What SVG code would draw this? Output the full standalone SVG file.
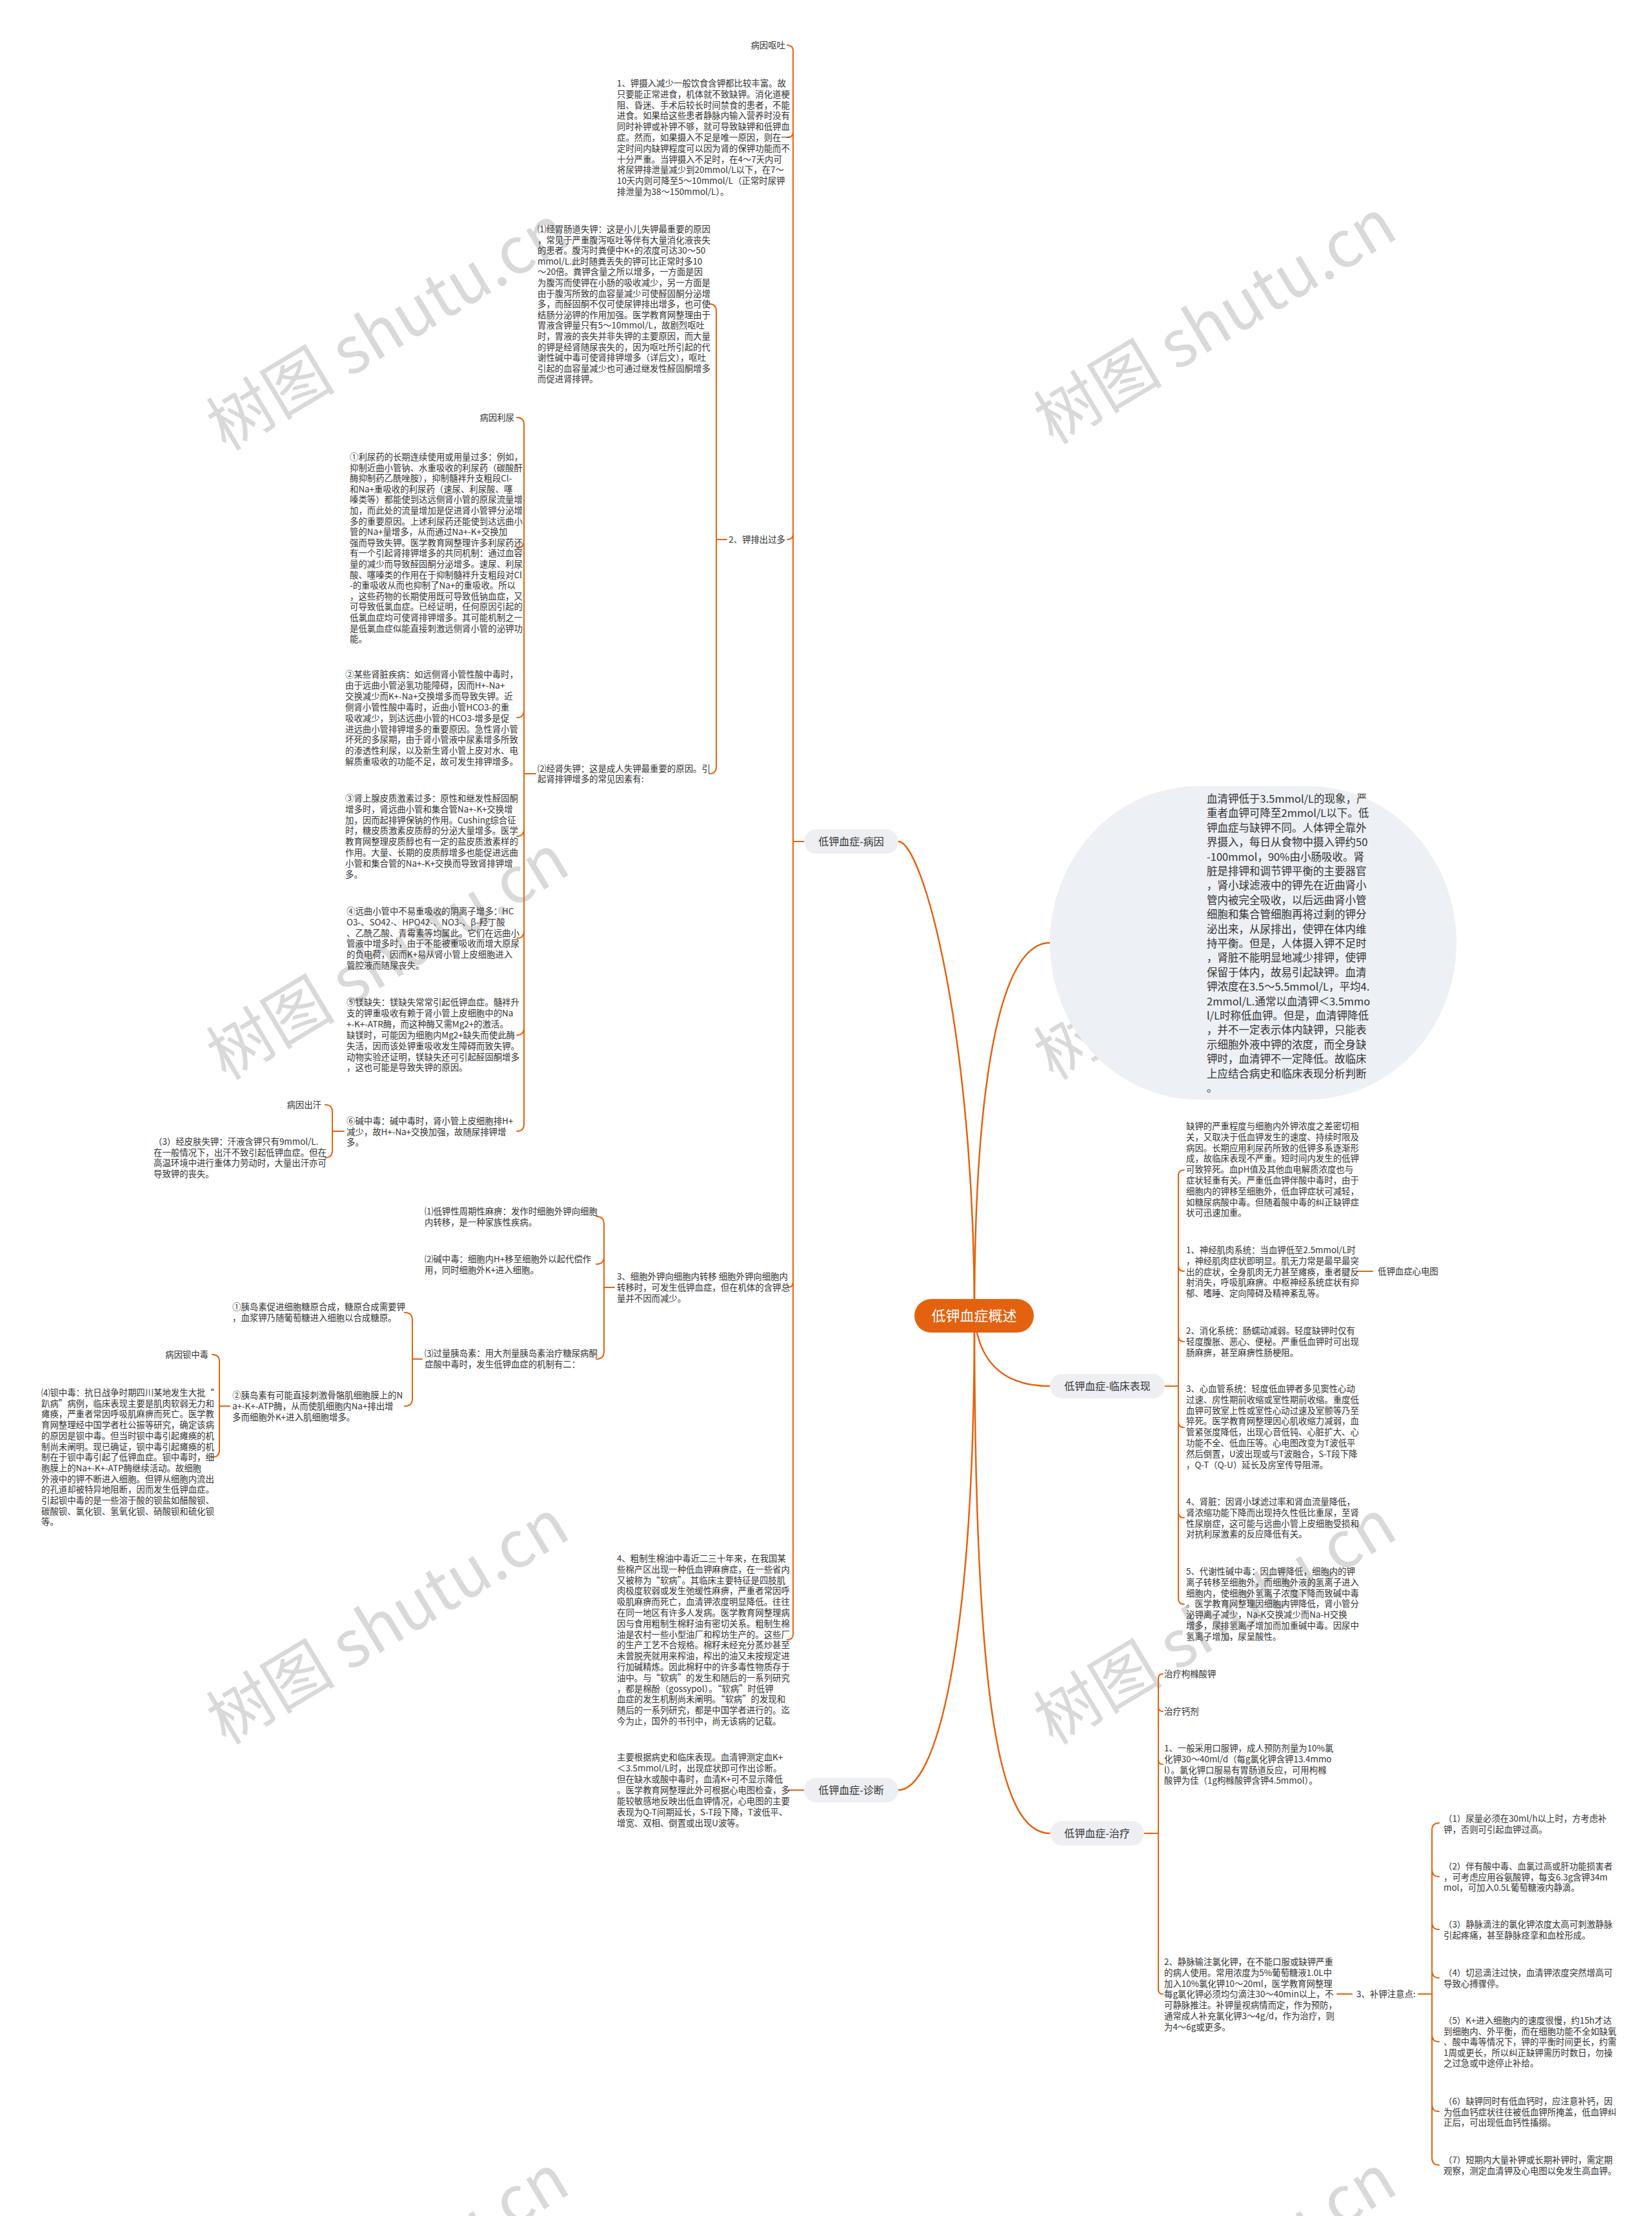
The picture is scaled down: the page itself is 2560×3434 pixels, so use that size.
<svg xmlns="http://www.w3.org/2000/svg" width="2560" height="3434" viewBox="0 0 2560 3434">
<style>
.t{font-family:'Noto Sans CJK SC','Noto Sans',sans-serif;font-size:13.4px;fill:#333}
.n{font-family:'Noto Sans CJK SC','Noto Sans',sans-serif;font-size:16px;fill:#333;text-anchor:middle}
.big{font-family:'Noto Sans CJK SC','Noto Sans',sans-serif;font-size:16.5px;fill:#333}
.wm{font-family:'Noto Sans CJK SC','Noto Sans',sans-serif;font-size:100px;fill:#d9d9d9}
.c{fill:none;stroke:#E4620F;stroke-width:2.5;stroke-linecap:round}
.b{fill:none;stroke:#E4620F;stroke-width:2;stroke-linecap:round;stroke-linejoin:round}
.pill{fill:#EDEFF2}
</style>
<rect width="2560" height="3434" fill="#ffffff"/>
<g id="watermarks">
<text class="wm" transform="translate(350,700) rotate(-31)">树图 shutu.cn</text>
<text class="wm" transform="translate(1632,690) rotate(-31)">树图 shutu.cn</text>
<text class="wm" transform="translate(350,1675) rotate(-31)">树图 shutu.cn</text>
<text class="wm" transform="translate(1632,1675) rotate(-31)">树图 shutu.cn</text>
<text class="wm" transform="translate(350,2705) rotate(-31)">树图 shutu.cn</text>
<text class="wm" transform="translate(1632,2705) rotate(-31)">树图 shutu.cn</text>
<text class="wm" transform="translate(350,3720) rotate(-31)">树图 shutu.cn</text>
<text class="wm" transform="translate(1632,3720) rotate(-31)">树图 shutu.cn</text>
</g>
<g id="connectors">
<path class="c" d="M1510,2039 C1510,1600 1430,1304 1392,1304"/>
<path class="c" d="M1510,2039 C1510,1700 1545,1461 1627,1461"/>
<path class="c" d="M1510,2039 C1515,2100 1545,2148 1627,2148"/>
<path class="c" d="M1510,2039 C1510,2560 1450,2774 1392,2774"/>
<path class="c" d="M1510,2039 C1510,2650 1550,2841 1627,2841"/>
<path class="b" d="M1246,1304 H1229 M1220,70 Q1229,70 1229,79 V2532 Q1229,2541 1220,2541 M1229,204 Q1229,213 1220,213 M1229,827 Q1229,836 1220,836 M1229,1986 Q1229,1995 1220,1995"/>
<path class="b" d="M1126,836 H1110 M1099,471 Q1110,471 1110,482 V1188 Q1110,1199 1099,1199"/>
<path class="b" d="M830,1199 H812 M801,647 Q812,647 812,658 V1742 Q812,1753 801,1753 M812,838 Q812,849 801,849 M812,1101 Q812,1112 801,1112 M812,1285 Q812,1296 801,1296 M812,1443 Q812,1454 801,1454 M812,1593 Q812,1604 801,1604"/>
<path class="b" d="M533,1753 H515 M504,1712 Q515,1712 515,1723 V1783 Q515,1794 504,1794"/>
<path class="b" d="M952,1995 H936 M924,1885 Q936,1885 936,1897 V2094 Q936,2106 924,2106 M936,1947 Q936,1959 924,1959"/>
<path class="b" d="M654,2106 H639 M627,2034 Q639,2034 639,2046 V2167 Q639,2179 627,2179"/>
<path class="b" d="M356,2179 H340 M329,2099 Q340,2099 340,2110 V2247 Q340,2258 329,2258"/>
<path class="b" d="M1246,2774 H1222"/>
<path class="b" d="M1805,2148 H1826 M1835,1813 Q1826,1813 1826,1822 V2477 Q1826,2486 1835,2486 M1826,1961 Q1826,1970 1835,1970 M1826,2070 Q1826,2079 1835,2079 M1826,2203 Q1826,2212 1835,2212 M1826,2343 Q1826,2352 1835,2352"/>
<path class="b" d="M2103,1970 H2127"/>
<path class="b" d="M1773,2841 H1795 M1802,2594 Q1795,2594 1795,2601 V3083 Q1795,3090 1802,3090 M1795,2645 Q1795,2652 1802,2652 M1795,2727 Q1795,2734 1802,2734"/>
<path class="b" d="M2072,3090 H2095"/>
<path class="b" d="M2198,3090 H2219 M2230,2825 Q2219,2825 2219,2836 V3344 Q2219,3355 2230,3355 M2219,2897 Q2219,2908 2230,2908 M2219,2979 Q2219,2990 2230,2990 M2219,3054 Q2219,3065 2230,3065 M2219,3153 Q2219,3164 2230,3164 M2219,3261 Q2219,3272 2230,3272"/>
</g>
<g id="root">
<rect x="1417" y="2013" width="185" height="52" rx="26" fill="#E4620F"/>
<text x="1509.5" y="2047" font-family="'Noto Sans CJK SC','Noto Sans',sans-serif" font-size="22" fill="#ffffff" text-anchor="middle">低钾血症概述</text>
</g>
<g id="n-cause"><rect class="pill" x="1246" y="1285" width="146" height="38" rx="19"/><text class="n" x="1319" y="1310">低钾血症-病因</text></g>
<g id="n-diag"><rect class="pill" x="1246" y="2755" width="146" height="38" rx="19"/><text class="n" x="1319" y="2780">低钾血症-诊断</text></g>
<g id="n-clin"><rect class="pill" x="1627" y="2129" width="178" height="38" rx="19"/><text class="n" x="1716" y="2154">低钾血症-临床表现</text></g>
<g id="n-treat"><rect class="pill" x="1627" y="2822" width="146" height="38" rx="19"/><text class="n" x="1700" y="2847">低钾血症-治疗</text></g>
<g id="n-def">
<rect x="1627" y="1218" width="630" height="486" rx="230" ry="243" fill="#EDF0F4"/>
<text class="big"><tspan x="1870" y="1244">血清钾低于3.5mmol/L的现象，严</tspan><tspan x="1870" dy="22.4">重者血钾可降至2mmol/L以下。低</tspan><tspan x="1870" dy="22.4">钾血症与缺钾不同。人体钾全靠外</tspan><tspan x="1870" dy="22.4">界摄入，每日从食物中摄入钾约50</tspan><tspan x="1870" dy="22.4">-100mmol，90%由小肠吸收。肾</tspan><tspan x="1870" dy="22.4">脏是排钾和调节钾平衡的主要器官</tspan><tspan x="1870" dy="22.4">，肾小球滤液中的钾先在近曲肾小</tspan><tspan x="1870" dy="22.4">管内被完全吸收，以后远曲肾小管</tspan><tspan x="1870" dy="22.4">细胞和集合管细胞再将过剩的钾分</tspan><tspan x="1870" dy="22.4">泌出来，从尿排出，使钾在体内维</tspan><tspan x="1870" dy="22.4">持平衡。但是，人体摄入钾不足时</tspan><tspan x="1870" dy="22.4">，肾脏不能明显地减少排钾，使钾</tspan><tspan x="1870" dy="22.4">保留于体内，故易引起缺钾。血清</tspan><tspan x="1870" dy="22.4">钾浓度在3.5～5.5mmol/L，平均4.</tspan><tspan x="1870" dy="22.4">2mmol/L.通常以血清钾＜3.5mmo</tspan><tspan x="1870" dy="22.4">l/L时称低血钾。但是，血清钾降低</tspan><tspan x="1870" dy="22.4">，并不一定表示体内缺钾，只能表</tspan><tspan x="1870" dy="22.4">示细胞外液中钾的浓度，而全身缺</tspan><tspan x="1870" dy="22.4">钾时，血清钾不一定降低。故临床</tspan><tspan x="1870" dy="22.4">上应结合病史和临床表现分析判断</tspan><tspan x="1870" dy="22.4">。</tspan></text>
</g>
<g id="c-vomit"><text class="t" x="1217" y="75" text-anchor="end">病因呕吐</text></g>
<g id="c-1"><text class="t"><tspan x="956" y="134">1、钾摄入减少一般饮食含钾都比较丰富。故</tspan><tspan x="956" dy="16.8">只要能正常进食，机体就不致缺钾。消化道梗</tspan><tspan x="956" dy="16.8">阻、昏迷、手术后较长时间禁食的患者，不能</tspan><tspan x="956" dy="16.8">进食。如果给这些患者静脉内输入营养时没有</tspan><tspan x="956" dy="16.8">同时补钾或补钾不够，就可导致缺钾和低钾血</tspan><tspan x="956" dy="16.8">症。然而，如果摄入不足是唯一原因，则在一</tspan><tspan x="956" dy="16.8">定时间内缺钾程度可以因为肾的保钾功能而不</tspan><tspan x="956" dy="16.8">十分严重。当钾摄入不足时，在4～7天内可</tspan><tspan x="956" dy="16.8">将尿钾排泄量减少到20mmol/L以下，在7～</tspan><tspan x="956" dy="16.8">10天内则可降至5～10mmol/L（正常时尿钾</tspan><tspan x="956" dy="16.8">排泄量为38～150mmol/L）。</tspan></text></g>
<g id="c-2"><text class="t" x="1217" y="841" text-anchor="end">2、钾排出过多</text></g>
<g id="c-2-1"><text class="t"><tspan x="833" y="360">⑴经胃肠道失钾：这是小儿失钾最重要的原因</tspan><tspan x="833" dy="16.6">，常见于严重腹泻呕吐等伴有大量消化液丧失</tspan><tspan x="833" dy="16.6">的患者。腹泻时粪便中K+的浓度可达30～50</tspan><tspan x="833" dy="16.6">mmol/L.此时随粪丢失的钾可比正常时多10</tspan><tspan x="833" dy="16.6">～20倍。粪钾含量之所以增多，一方面是因</tspan><tspan x="833" dy="16.6">为腹泻而使钾在小肠的吸收减少，另一方面是</tspan><tspan x="833" dy="16.6">由于腹泻所致的血容量减少可使醛固酮分泌增</tspan><tspan x="833" dy="16.6">多，而醛固酮不仅可使尿钾排出增多，也可使</tspan><tspan x="833" dy="16.6">结肠分泌钾的作用加强。医学教育网整理由于</tspan><tspan x="833" dy="16.6">胃液含钾量只有5～10mmol/L，故剧烈呕吐</tspan><tspan x="833" dy="16.6">时，胃液的丧失并非失钾的主要原因，而大量</tspan><tspan x="833" dy="16.6">的钾是经肾随尿丧失的，因为呕吐所引起的代</tspan><tspan x="833" dy="16.6">谢性碱中毒可使肾排钾增多（详后文），呕吐</tspan><tspan x="833" dy="16.6">引起的血容量减少也可通过继发性醛固酮增多</tspan><tspan x="833" dy="16.6">而促进肾排钾。</tspan></text></g>
<g id="c-2-2"><text class="t"><tspan x="833" y="1196">⑵经肾失钾：这是成人失钾最重要的原因。引</tspan><tspan x="833" dy="16.2">起肾排钾增多的常见因素有:</tspan></text></g>
<g id="c-diuresis"><text class="t" x="797" y="652" text-anchor="end">病因利尿</text></g>
<g id="c-2-2-1"><text class="t"><tspan x="542" y="713">①利尿药的长期连续使用或用量过多：例如，</tspan><tspan x="542" dy="16.6">抑制近曲小管钠、水重吸收的利尿药（碳酸酐</tspan><tspan x="542" dy="16.6">酶抑制药乙酰唑胺），抑制髓袢升支粗段Cl-</tspan><tspan x="542" dy="16.6">和Na+重吸收的利尿药（速尿、利尿酸、噻</tspan><tspan x="542" dy="16.6">嗪类等）都能使到达远侧肾小管的原尿流量增</tspan><tspan x="542" dy="16.6">加，而此处的流量增加是促进肾小管钾分泌增</tspan><tspan x="542" dy="16.6">多的重要原因。上述利尿药还能使到达远曲小</tspan><tspan x="542" dy="16.6">管的Na+量增多，从而通过Na+-K+交换加</tspan><tspan x="542" dy="16.6">强而导致失钾。医学教育网整理许多利尿药还</tspan><tspan x="542" dy="16.6">有一个引起肾排钾增多的共同机制：通过血容</tspan><tspan x="542" dy="16.6">量的减少而导致醛固酮分泌增多。速尿、利尿</tspan><tspan x="542" dy="16.6">酸、噻嗪类的作用在于抑制髓袢升支粗段对Cl</tspan><tspan x="542" dy="16.6">-的重吸收从而也抑制了Na+的重吸收。所以</tspan><tspan x="542" dy="16.6">，这些药物的长期使用既可导致低钠血症，又</tspan><tspan x="542" dy="16.6">可导致低氯血症。已经证明，任何原因引起的</tspan><tspan x="542" dy="16.6">低氯血症均可使肾排钾增多。其可能机制之一</tspan><tspan x="542" dy="16.6">是低氯血症似能直接刺激远侧肾小管的泌钾功</tspan><tspan x="542" dy="16.6">能。</tspan></text></g>
<g id="c-2-2-2"><text class="t"><tspan x="535" y="1050">②某些肾脏疾病：如远侧肾小管性酸中毒时，</tspan><tspan x="535" dy="16.9">由于远曲小管泌氢功能障碍，因而H+-Na+</tspan><tspan x="535" dy="16.9">交换减少而K+-Na+交换增多而导致失钾。近</tspan><tspan x="535" dy="16.9">侧肾小管性酸中毒时，近曲小管HCO3-的重</tspan><tspan x="535" dy="16.9">吸收减少，到达远曲小管的HCO3-增多是促</tspan><tspan x="535" dy="16.9">进远曲小管排钾增多的重要原因。急性肾小管</tspan><tspan x="535" dy="16.9">坏死的多尿期，由于肾小管液中尿素增多所致</tspan><tspan x="535" dy="16.9">的渗透性利尿，以及新生肾小管上皮对水、电</tspan><tspan x="535" dy="16.9">解质重吸收的功能不足，故可发生排钾增多。</tspan></text></g>
<g id="c-2-2-3"><text class="t"><tspan x="535" y="1242">③肾上腺皮质激素过多：原性和继发性醛固酮</tspan><tspan x="535" dy="16.8">增多时，肾远曲小管和集合管Na+-K+交换增</tspan><tspan x="535" dy="16.8">加，因而起排钾保钠的作用。Cushing综合征</tspan><tspan x="535" dy="16.8">时，糖皮质激素皮质醇的分泌大量增多。医学</tspan><tspan x="535" dy="16.8">教育网整理皮质醇也有一定的盐皮质激素样的</tspan><tspan x="535" dy="16.8">作用。大量、长期的皮质醇增多也能促进远曲</tspan><tspan x="535" dy="16.8">小管和集合管的Na+-K+交换而导致肾排钾增</tspan><tspan x="535" dy="16.8">多。</tspan></text></g>
<g id="c-2-2-4"><text class="t"><tspan x="537" y="1417">④远曲小管中不易重吸收的阴离子增多：HC</tspan><tspan x="537" dy="16.8">O3-、SO42-、HPO42-、NO3-、β-羟丁酸</tspan><tspan x="537" dy="16.8">、乙酰乙酸、青霉素等均属此。它们在远曲小</tspan><tspan x="537" dy="16.8">管液中增多时，由于不能被重吸收而增大原尿</tspan><tspan x="537" dy="16.8">的负电荷，因而K+易从肾小管上皮细胞进入</tspan><tspan x="537" dy="16.8">管腔液而随尿丧失。</tspan></text></g>
<g id="c-2-2-5"><text class="t"><tspan x="537" y="1558">⑤镁缺失：镁缺失常常引起低钾血症。髓袢升</tspan><tspan x="537" dy="16.9">支的钾重吸收有赖于肾小管上皮细胞中的Na</tspan><tspan x="537" dy="16.9">+-K+-ATR酶，而这种酶又需Mg2+的激活。</tspan><tspan x="537" dy="16.9">缺镁时，可能因为细胞内Mg2+缺失而使此酶</tspan><tspan x="537" dy="16.9">失活，因而该处钾重吸收发生障碍而致失钾。</tspan><tspan x="537" dy="16.9">动物实验还证明，镁缺失还可引起醛固酮增多</tspan><tspan x="537" dy="16.9">，这也可能是导致失钾的原因。</tspan></text></g>
<g id="c-2-2-6"><text class="t"><tspan x="537" y="1742">⑥碱中毒：碱中毒时，肾小管上皮细胞排H+</tspan><tspan x="537" dy="16.6">减少，故H+-Na+交换加强，故随尿排钾增</tspan><tspan x="537" dy="16.6">多。</tspan></text></g>
<g id="c-sweat"><text class="t" x="498" y="1717" text-anchor="end">病因出汗</text></g>
<g id="c-skin"><text class="t"><tspan x="238" y="1774">（3）经皮肤失钾：汗液含钾只有9mmol/L.</tspan><tspan x="238" dy="16.6">在一般情况下，出汗不致引起低钾血症。但在</tspan><tspan x="238" dy="16.6">高温环境中进行重体力劳动时，大量出汗亦可</tspan><tspan x="238" dy="16.6">导致钾的丧失。</tspan></text></g>
<g id="c-3"><text class="t"><tspan x="956" y="1983">3、细胞外钾向细胞内转移 细胞外钾向细胞内</tspan><tspan x="956" dy="17">转移时，可发生低钾血症，但在机体的含钾总</tspan><tspan x="956" dy="17">量并不因而减少。</tspan></text></g>
<g id="c-3-1"><text class="t"><tspan x="658" y="1882">⑴低钾性周期性麻痹：发作时细胞外钾向细胞</tspan><tspan x="658" dy="16.6">内转移，是一种家族性疾病。</tspan></text></g>
<g id="c-3-2"><text class="t"><tspan x="658" y="1956">⑵碱中毒：细胞内H+移至细胞外以起代偿作</tspan><tspan x="658" dy="16.6">用，同时细胞外K+进入细胞。</tspan></text></g>
<g id="c-3-3"><text class="t"><tspan x="658" y="2102">⑶过量胰岛素：用大剂量胰岛素治疗糖尿病酮</tspan><tspan x="658" dy="16.6">症酸中毒时，发生低钾血症的机制有二：</tspan></text></g>
<g id="c-3-3-1"><text class="t"><tspan x="360" y="2030">①胰岛素促进细胞糖原合成，糖原合成需要钾</tspan><tspan x="360" dy="16.6">，血浆钾乃随葡萄糖进入细胞以合成糖原。</tspan></text></g>
<g id="c-3-3-2"><text class="t"><tspan x="360" y="2167">②胰岛素有可能直接刺激骨骼肌细胞膜上的N</tspan><tspan x="360" dy="16.8">a+-K+-ATP酶，从而使肌细胞内Na+排出增</tspan><tspan x="360" dy="16.8">多而细胞外K+进入肌细胞增多。</tspan></text></g>
<g id="c-barium-label"><text class="t" x="323" y="2104" text-anchor="end">病因钡中毒</text></g>
<g id="c-barium"><text class="t"><tspan x="64" y="2163">⑷钡中毒：抗日战争时期四川某地发生大批“</tspan><tspan x="64" dy="16.7">趴病”病例，临床表现主要是肌肉软弱无力和</tspan><tspan x="64" dy="16.7">瘫痪，严重者常因呼吸肌麻痹而死亡。医学教</tspan><tspan x="64" dy="16.7">育网整理经中国学者杜公振等研究，确定该病</tspan><tspan x="64" dy="16.7">的原因是钡中毒。但当时钡中毒引起瘫痪的机</tspan><tspan x="64" dy="16.7">制尚未阐明。现已确证，钡中毒引起瘫痪的机</tspan><tspan x="64" dy="16.7">制在于钡中毒引起了低钾血症。钡中毒时，细</tspan><tspan x="64" dy="16.7">胞膜上的Na+-K+-ATP酶继续活动。故细胞</tspan><tspan x="64" dy="16.7">外液中的钾不断进入细胞。但钾从细胞内流出</tspan><tspan x="64" dy="16.7">的孔道却被特异地阻断，因而发生低钾血症。</tspan><tspan x="64" dy="16.7">引起钡中毒的是一些溶于酸的钡盐如醋酸钡、</tspan><tspan x="64" dy="16.7">碳酸钡、氯化钡、氢氧化钡、硝酸钡和硫化钡</tspan><tspan x="64" dy="16.7">等。</tspan></text></g>
<g id="c-4"><text class="t"><tspan x="956" y="2420">4、粗制生棉油中毒近二三十年来，在我国某</tspan><tspan x="956" dy="16.8">些棉产区出现一种低血钾麻痹症，在一些省内</tspan><tspan x="956" dy="16.8">又被称为“软病”。其临床主要特征是四肢肌</tspan><tspan x="956" dy="16.8">肉极度软弱或发生弛缓性麻痹，严重者常因呼</tspan><tspan x="956" dy="16.8">吸肌麻痹而死亡，血清钾浓度明显降低。往往</tspan><tspan x="956" dy="16.8">在同一地区有许多人发病。医学教育网整理病</tspan><tspan x="956" dy="16.8">因与食用粗制生棉籽油有密切关系。粗制生棉</tspan><tspan x="956" dy="16.8">油是农村一些小型油厂和榨坊生产的。这些厂</tspan><tspan x="956" dy="16.8">的生产工艺不合规格。棉籽未经充分蒸炒甚至</tspan><tspan x="956" dy="16.8">未曾脱壳就用来榨油，榨出的油又未按规定进</tspan><tspan x="956" dy="16.8">行加碱精炼。因此棉籽中的许多毒性物质存于</tspan><tspan x="956" dy="16.8">油中。与“软病”的发生和随后的一系列研究</tspan><tspan x="956" dy="16.8">，都是棉酚（gossypol）。“软病”时低钾</tspan><tspan x="956" dy="16.8">血症的发生机制尚未阐明。“软病”的发现和</tspan><tspan x="956" dy="16.8">随后的一系列研究，都是中国学者进行的。迄</tspan><tspan x="956" dy="16.8">今为止，国外的书刊中，尚无该病的记载。</tspan></text></g>
<g id="d-1"><text class="t"><tspan x="956" y="2728">主要根据病史和临床表现。血清钾测定血K+</tspan><tspan x="956" dy="17">＜3.5mmol/L时，出现症状即可作出诊断。</tspan><tspan x="956" dy="17">但在缺水或酸中毒时，血清K+可不显示降低</tspan><tspan x="956" dy="17">。医学教育网整理此外可根据心电图检查，多</tspan><tspan x="956" dy="17">能较敏感地反映出低血钾情况，心电图的主要</tspan><tspan x="956" dy="17">表现为Q-T间期延长，S-T段下降，T波低平、</tspan><tspan x="956" dy="17">增宽、双相、倒置或出现U波等。</tspan></text></g>
<g id="k-0"><text class="t"><tspan x="1838" y="1750">缺钾的严重程度与细胞内外钾浓度之差密切相</tspan><tspan x="1838" dy="16.8">关，又取决于低血钾发生的速度、持续时限及</tspan><tspan x="1838" dy="16.8">病因。长期应用利尿药所致的低钾多系逐渐形</tspan><tspan x="1838" dy="16.8">成，故临床表现不严重。短时间内发生的低钾</tspan><tspan x="1838" dy="16.8">可致猝死。血pH值及其他血电解质浓度也与</tspan><tspan x="1838" dy="16.8">症状轻重有关。严重低血钾伴酸中毒时，由于</tspan><tspan x="1838" dy="16.8">细胞内的钾移至细胞外，低血钾症状可减轻，</tspan><tspan x="1838" dy="16.8">如糖尿病酸中毒。但随着酸中毒的纠正缺钾症</tspan><tspan x="1838" dy="16.8">状可迅速加重。</tspan></text></g>
<g id="k-1"><text class="t"><tspan x="1838" y="1942">1、神经肌肉系统：当血钾低至2.5mmol/L时</tspan><tspan x="1838" dy="16.8">，神经肌肉症状即明显。肌无力常是最早最突</tspan><tspan x="1838" dy="16.8">出的症状，全身肌肉无力甚至瘫痪，重者腱反</tspan><tspan x="1838" dy="16.8">射消失，呼吸肌麻痹。中枢神经系统症状有抑</tspan><tspan x="1838" dy="16.8">郁、嗜睡、定向障碍及精神紊乱等。</tspan></text></g>
<g id="k-ecg"><text class="t" x="2135" y="1975">低钾血症心电图</text></g>
<g id="k-2"><text class="t"><tspan x="1838" y="2067">2、消化系统：肠蠕动减弱。轻度缺钾时仅有</tspan><tspan x="1838" dy="16.8">轻度腹胀、恶心、便秘。严重低血钾时可出现</tspan><tspan x="1838" dy="16.8">肠麻痹，甚至麻痹性肠梗阻。</tspan></text></g>
<g id="k-3"><text class="t"><tspan x="1838" y="2157">3、心血管系统：轻度低血钾者多见窦性心动</tspan><tspan x="1838" dy="16.8">过速、房性期前收缩或室性期前收缩。重度低</tspan><tspan x="1838" dy="16.8">血钾可致室上性或室性心动过速及室颤等乃至</tspan><tspan x="1838" dy="16.8">猝死。医学教育网整理因心肌收缩力减弱，血</tspan><tspan x="1838" dy="16.8">管紧张度降低，出现心音低钝、心脏扩大、心</tspan><tspan x="1838" dy="16.8">功能不全、低血压等。心电图改变为T波低平</tspan><tspan x="1838" dy="16.8">然后倒置，U波出现或与T波融合，S-T段下降</tspan><tspan x="1838" dy="16.8">，Q-T（Q-U）延长及房室传导阻滞。</tspan></text></g>
<g id="k-4"><text class="t"><tspan x="1838" y="2332">4、肾脏：因肾小球滤过率和肾血流量降低，</tspan><tspan x="1838" dy="16.8">肾浓缩功能下降而出现持久性低比重尿，至肾</tspan><tspan x="1838" dy="16.8">性尿崩症，这可能与远曲小管上皮细胞受损和</tspan><tspan x="1838" dy="16.8">对抗利尿激素的反应降低有关。</tspan></text></g>
<g id="k-5"><text class="t"><tspan x="1838" y="2440">5、代谢性碱中毒：因血钾降低，细胞内的钾</tspan><tspan x="1838" dy="16.8">离子转移至细胞外，而细胞外液的氢离子进入</tspan><tspan x="1838" dy="16.8">细胞内，使细胞外氢离子浓度下降而致碱中毒</tspan><tspan x="1838" dy="16.8">。医学教育网整理因细胞内钾降低，肾小管分</tspan><tspan x="1838" dy="16.8">泌钾离子减少，Na-K交换减少而Na-H交换</tspan><tspan x="1838" dy="16.8">增多，尿排氢离子增加而加重碱中毒。因尿中</tspan><tspan x="1838" dy="16.8">氢离子增加，尿呈酸性。</tspan></text></g>
<g id="t-citrate"><text class="t" x="1804" y="2599">治疗枸橼酸钾</text></g>
<g id="t-calcium"><text class="t" x="1804" y="2657">治疗钙剂</text></g>
<g id="t-1"><text class="t"><tspan x="1804" y="2714">1、一般采用口服钾，成人预防剂量为10%氯</tspan><tspan x="1804" dy="16.8">化钾30～40ml/d（每g氯化钾含钾13.4mmo</tspan><tspan x="1804" dy="16.8">l）。氯化钾口服易有胃肠道反应，可用枸橼</tspan><tspan x="1804" dy="16.8">酸钾为佳（1g枸橼酸钾含钾4.5mmol）。</tspan></text></g>
<g id="t-2"><text class="t"><tspan x="1804" y="3045">2、静脉输注氯化钾，在不能口服或缺钾严重</tspan><tspan x="1804" dy="16.8">的病人使用。常用浓度为5%葡萄糖液1.0L中</tspan><tspan x="1804" dy="16.8">加入10%氯化钾10～20ml，医学教育网整理</tspan><tspan x="1804" dy="16.8">每g氯化钾必须均匀滴注30～40min以上，不</tspan><tspan x="1804" dy="16.8">可静脉推注。补钾量视病情而定，作为预防，</tspan><tspan x="1804" dy="16.8">通常成人补充氯化钾3～4g/d，作为治疗，则</tspan><tspan x="1804" dy="16.8">为4～6g或更多。</tspan></text></g>
<g id="t-3"><text class="t" x="2102" y="3095">3、补钾注意点:</text></g>
<g id="t-3-1"><text class="t"><tspan x="2237" y="2823">（1）尿量必须在30ml/h以上时，方考虑补</tspan><tspan x="2237" dy="16.5">钾，否则可引起血钾过高。</tspan></text></g>
<g id="t-3-2"><text class="t"><tspan x="2237" y="2897">（2）伴有酸中毒、血氯过高或肝功能损害者</tspan><tspan x="2237" dy="16.5">，可考虑应用谷氨酸钾，每支6.3g含钾34m</tspan><tspan x="2237" dy="16.5">mol，可加入0.5L葡萄糖液内静滴。</tspan></text></g>
<g id="t-3-3"><text class="t"><tspan x="2237" y="2987">（3）静脉滴注的氯化钾浓度太高可刺激静脉</tspan><tspan x="2237" dy="16.5">引起疼痛，甚至静脉痉挛和血栓形成。</tspan></text></g>
<g id="t-3-4"><text class="t"><tspan x="2237" y="3062">（4）切忌滴注过快，血清钾浓度突然增高可</tspan><tspan x="2237" dy="16.5">导致心搏骤停。</tspan></text></g>
<g id="t-3-5"><text class="t"><tspan x="2237" y="3136">（5）K+进入细胞内的速度很慢，约15h才达</tspan><tspan x="2237" dy="16.6">到细胞内、外平衡，而在细胞功能不全如缺氧</tspan><tspan x="2237" dy="16.6">、酸中毒等情况下，钾的平衡时间更长，约需</tspan><tspan x="2237" dy="16.6">1周或更长，所以纠正缺钾需历时数日，勿操</tspan><tspan x="2237" dy="16.6">之过急或中途停止补给。</tspan></text></g>
<g id="t-3-6"><text class="t"><tspan x="2237" y="3261">（6）缺钾同时有低血钙时，应注意补钙，因</tspan><tspan x="2237" dy="16.5">为低血钙症状往往被低血钾所掩盖，低血钾纠</tspan><tspan x="2237" dy="16.5">正后，可出现低血钙性搐搦。</tspan></text></g>
<g id="t-3-7"><text class="t"><tspan x="2237" y="3352">（7）短期内大量补钾或长期补钾时，需定期</tspan><tspan x="2237" dy="16.5">观察，测定血清钾及心电图以免发生高血钾。</tspan></text></g>
</svg>
